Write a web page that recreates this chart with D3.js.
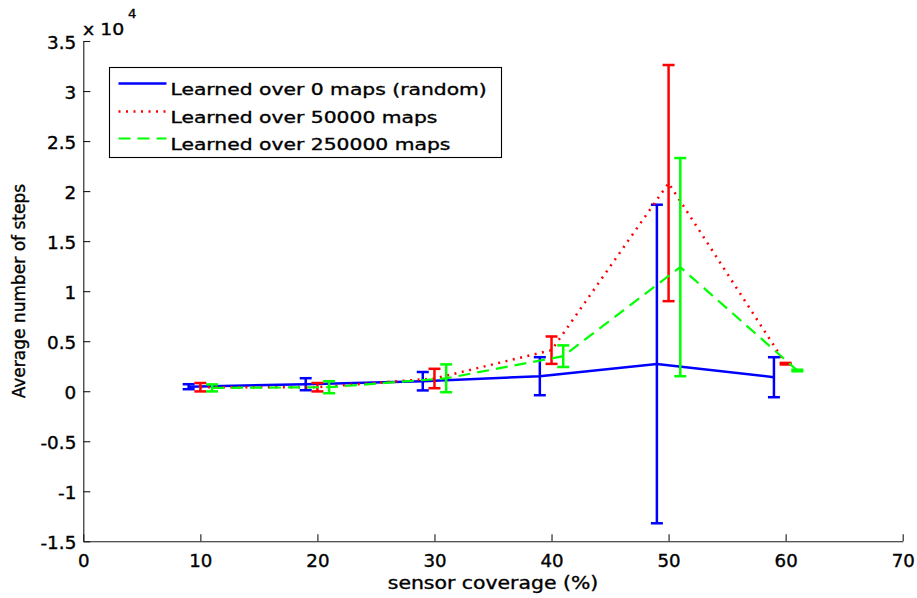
<!DOCTYPE html>
<html>
<head>
<meta charset="utf-8">
<script src="https://cdn.jsdelivr.net/npm/d3@7"></script>
<style>
  html, body { margin: 0; padding: 0; background: #fff; }
  svg { display: block; }
  text { font-family: "DejaVu Sans", sans-serif; fill: #000; stroke: #000; stroke-width: 0.35px; }
</style>
</head>
<body>
<svg id="chart" width="917" height="598"></svg>
<script>
// Sensor coverage levels (%) at which each policy was evaluated
const coverage = [10, 20, 30, 40, 50, 60];

// Mean number of steps and error-bar half widths per policy
const randomMean = [450, 700, 1000, 1500, 2720, 1400];
const randomErr = [250, 600, 920, 1900, 15920, 2000];

const learned50kMean = [400, 400, 1270, 4100, 20800, 2750];
const learned50kErr = [420, 420, 970, 1370, 11800, 80];

const learned250kMean = [330, 400, 1290, 3500, 12400, 2070];
const learned250kErr = [350, 600, 1390, 1080, 10900, 80];

const seriesLabels = [
  "Learned over 0 maps (random)",
  "Learned over 50000 maps",
  "Learned over 250000 maps"
];

const xTicks = [0, 10, 20, 30, 40, 50, 60, 70];
const yTicks = [-15000, -10000, -5000, 0, 5000, 10000, 15000, 20000, 25000, 30000, 35000];

// Series are dodged by one coverage unit so the error bars do not overlap
const series = [
  { label: seriesLabels[0], mean: randomMean, err: randomErr, shift: -1,
    color: "#0000ff", width: 2.5, dash: null },
  { label: seriesLabels[1], mean: learned50kMean, err: learned50kErr, shift: 0,
    color: "#ff0000", width: 2.5, dash: "2,5.5" },
  { label: seriesLabels[2], mean: learned250kMean, err: learned250kErr, shift: 1,
    color: "#00ff00", width: 2.2, dash: "12,7" }
];

const svg = d3.select("#chart");

const x = d3.scaleLinear().domain([0, 70]).range([83.3, 902.7]);
const y = d3.scaleLinear().domain([-15000, 35000]).range([541.3, 41]);

const axisColor = "#1a1a1a";

// Horizontal stretch applied to glyphs (the lettering runs wide)
function stretchText(sel, sx) {
  sel.each(function () {
    const t = d3.select(this);
    const xa = +t.attr("x") || 0;
    t.attr("x", xa / sx).attr("transform", `scale(${sx},1)`);
  });
}

// X axis
const gx = svg.append("g")
  .attr("transform", `translate(0,${y.range()[0]})`)
  .call(d3.axisBottom(x).tickValues(xTicks).tickSizeInner(-7).tickSizeOuter(0)
    .tickPadding(12).tickFormat(d3.format("d")));
gx.select(".domain").attr("stroke", axisColor).attr("stroke-width", 1.1);
gx.selectAll(".tick line").attr("stroke", axisColor).attr("stroke-width", 1.1);
gx.selectAll(".tick text")
  .attr("y", 26).attr("dy", null)
  .style("font-size", "17px").style("font-family", "DejaVu Sans")
  .attr("fill", "#000");
stretchText(gx.selectAll(".tick text"), 1.07);

// Y axis
const gy = svg.append("g")
  .attr("transform", `translate(${x.range()[0]},0)`)
  .call(d3.axisLeft(y).tickValues(yTicks).tickSizeInner(-7).tickSizeOuter(0)
    .tickPadding(7).tickFormat(d => String(d / 1e4)));
gy.select(".domain").attr("stroke", axisColor).attr("stroke-width", 1.1);
gy.selectAll(".tick line").attr("stroke", axisColor).attr("stroke-width", 1.1);
gy.selectAll(".tick text")
  .attr("dy", "0.45em")
  .style("font-size", "17px").style("font-family", "DejaVu Sans")
  .attr("fill", "#000");
stretchText(gy.selectAll(".tick text"), 1.08);

// Exponent multiplier above the y axis
const expo = svg.append("g").attr("transform", "translate(83,35)");
expo.append("text").attr("transform", "scale(1.18,1)")
  .style("font-size", "16px").text("x 10");
expo.append("text").attr("transform", "translate(45,-17) scale(1.1,1)")
  .style("font-size", "12px").text("4");

// Axis titles
svg.append("text")
  .attr("transform", `translate(${(x.range()[0] + x.range()[1]) / 2},589) scale(1.2,1)`)
  .attr("text-anchor", "middle")
  .style("font-size", "17px")
  .text("sensor coverage (%)");

svg.append("text")
  .attr("transform", `translate(25,${(y.range()[0] + y.range()[1]) / 2}) rotate(-90)`)
  .attr("text-anchor", "middle")
  .style("font-size", "17px")
  .text("Average number of steps");

// Series: connecting line plus error bars
const plot = svg.append("g");
const capHalf = 6;

series.forEach(s => {
  const pts = coverage.map((c, i) => ({ cx: c + s.shift, m: s.mean[i], e: s.err[i] }));
  const g = plot.append("g");

  g.append("path")
    .datum(pts)
    .attr("fill", "none")
    .attr("stroke", s.color)
    .attr("stroke-width", s.width)
    .attr("stroke-dasharray", s.dash)
    .attr("d", d3.line().x(d => x(d.cx)).y(d => y(d.m)));

  const bars = g.selectAll("g.bar").data(pts).join("g").attr("class", "bar")
    .attr("stroke", s.color).attr("stroke-width", 2.5);
  bars.append("line")
    .attr("x1", d => x(d.cx)).attr("x2", d => x(d.cx))
    .attr("y1", d => y(d.m - d.e)).attr("y2", d => y(d.m + d.e));
  bars.append("line")
    .attr("x1", d => x(d.cx) - capHalf).attr("x2", d => x(d.cx) + capHalf)
    .attr("y1", d => y(d.m + d.e)).attr("y2", d => y(d.m + d.e));
  bars.append("line")
    .attr("x1", d => x(d.cx) - capHalf).attr("x2", d => x(d.cx) + capHalf)
    .attr("y1", d => y(d.m - d.e)).attr("y2", d => y(d.m - d.e));
});

// Legend
const legend = svg.append("g").attr("transform", "translate(109.5,67.5)");
legend.append("rect")
  .attr("width", 392).attr("height", 90)
  .attr("fill", "#fff").attr("stroke", "#000").attr("stroke-width", 1.1);

const rowY = [21, 49, 76];
series.forEach((s, i) => {
  legend.append("line")
    .attr("x1", 9).attr("x2", 57)
    .attr("y1", rowY[i] - 5).attr("y2", rowY[i] - 5)
    .attr("stroke", s.color)
    .attr("stroke-width", s.width)
    .attr("stroke-dasharray", s.dash);
  legend.append("text")
    .attr("transform", `translate(61,${rowY[i] + 6}) scale(1.27,1)`)
    .style("font-size", "16px")
    .text(s.label);
});
</script>
</body>
</html>
